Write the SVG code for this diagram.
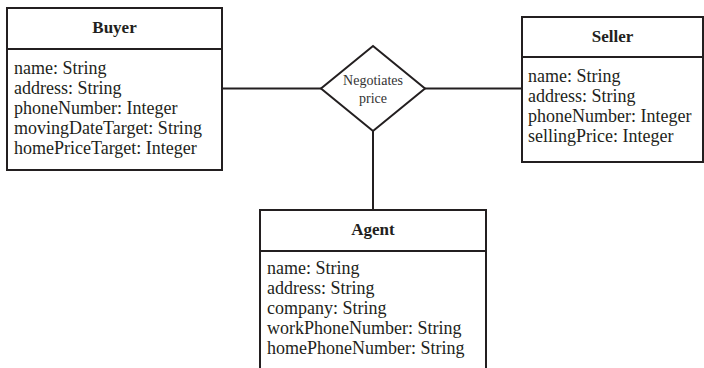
<svg xmlns="http://www.w3.org/2000/svg" width="704" height="368" viewBox="0 0 704 368">
<style>
.box{fill:#fff;stroke:#231f20;stroke-width:2}
.div{stroke:#231f20;stroke-width:2}
.conn{stroke:#231f20;stroke-width:2;fill:none}
.title{font-family:"Liberation Serif",serif;font-weight:bold;font-size:17px;fill:#231f20;text-anchor:middle}
.attr{font-family:"Liberation Serif",serif;font-size:18px;fill:#231f20}
.rel{font-family:"Liberation Serif",serif;font-size:14px;fill:#333;text-anchor:middle}
</style>
<rect width="704" height="368" fill="#fff"/>
<g id="connectors">
<line class="conn" x1="222" y1="88.5" x2="321" y2="88.5"/>
<line class="conn" x1="425" y1="88.5" x2="522" y2="88.5"/>
<line class="conn" x1="373" y1="131" x2="373" y2="210"/>
</g>
<g id="buyer">
<rect class="box" x="7" y="8" width="215" height="162"/>
<line class="div" x1="7" y1="49" x2="222" y2="49"/>
<text class="title" x="114.5" y="33">Buyer</text>
<text class="attr" x="14" y="74">name: String</text>
<text class="attr" x="14" y="94">address: String</text>
<text class="attr" x="14" y="114">phoneNumber: Integer</text>
<text class="attr" x="14" y="134">movingDateTarget: String</text>
<text class="attr" x="14" y="154">homePriceTarget: Integer</text>
</g>
<g id="negotiates">
<polygon class="box" points="373,46 425,88.5 373,131 321,88.5"/>
<text class="rel" x="373" y="85">Negotiates</text>
<text class="rel" x="373" y="103">price</text>
</g>
<g id="seller">
<rect class="box" x="522" y="17" width="181" height="145"/>
<line class="div" x1="522" y1="57" x2="703" y2="57"/>
<text class="title" x="612.5" y="42">Seller</text>
<text class="attr" x="528" y="82">name: String</text>
<text class="attr" x="528" y="102">address: String</text>
<text class="attr" x="528" y="122">phoneNumber: Integer</text>
<text class="attr" x="528" y="142">sellingPrice: Integer</text>
</g>
<g id="agent">
<rect class="box" x="260" y="210" width="226" height="170"/>
<line class="div" x1="260" y1="251" x2="486" y2="251"/>
<text class="title" x="373" y="235">Agent</text>
<text class="attr" x="267" y="274">name: String</text>
<text class="attr" x="267" y="294">address: String</text>
<text class="attr" x="267" y="314">company: String</text>
<text class="attr" x="267" y="334">workPhoneNumber: String</text>
<text class="attr" x="267" y="354">homePhoneNumber: String</text>
</g>
</svg>
